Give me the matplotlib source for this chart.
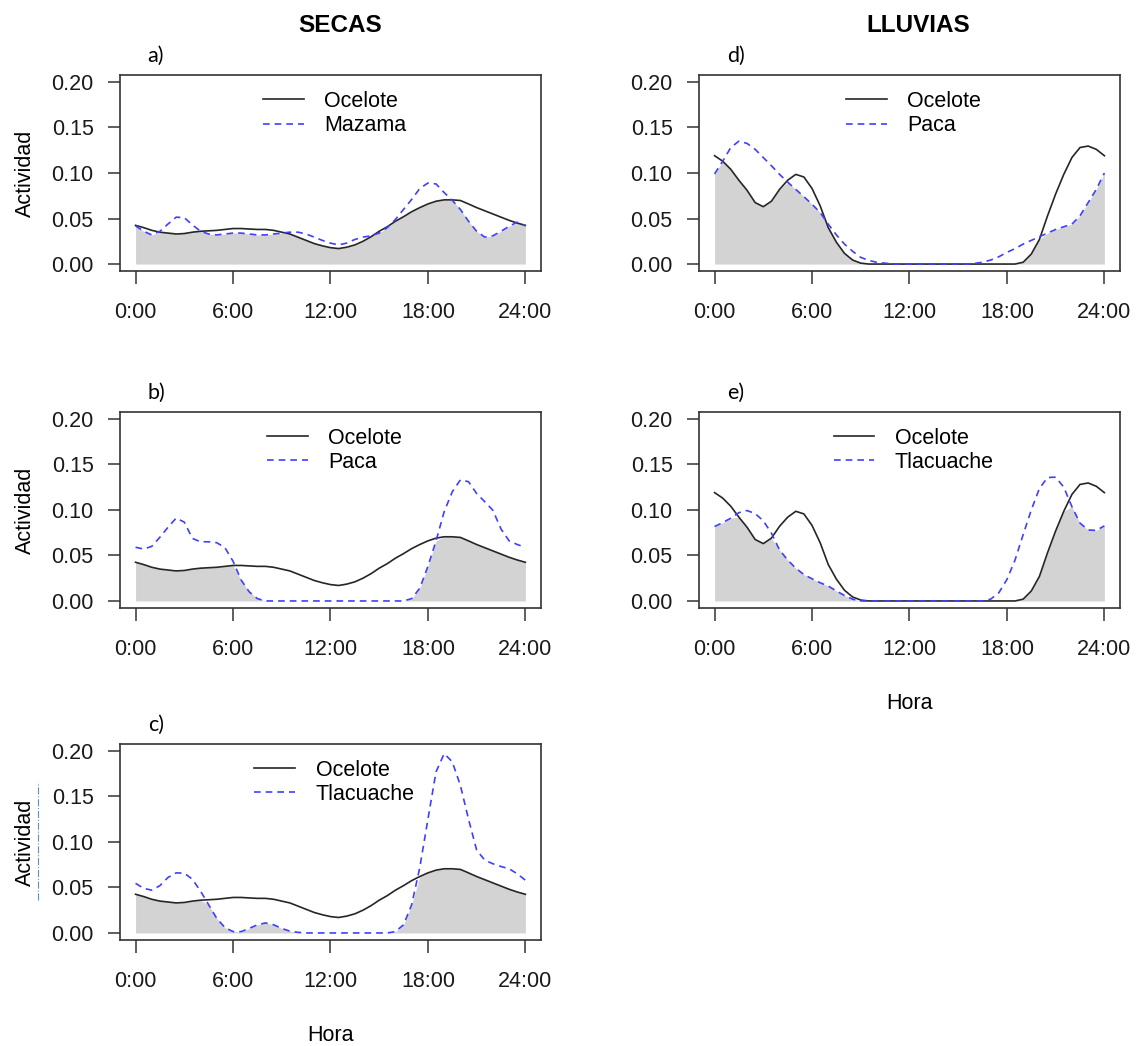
import matplotlib
matplotlib.use("Agg")
import matplotlib.pyplot as plt
import numpy as np

hours = [0, 0.5, 1, 1.5, 2, 2.5, 3, 3.5, 4, 4.5, 5, 5.5, 6, 6.5, 7, 7.5, 8, 8.5,
         9, 9.5, 10, 10.5, 11, 11.5, 12, 12.5, 13, 13.5, 14, 14.5, 15, 15.5, 16,
         16.5, 17, 17.5, 18, 18.5, 19, 19.5, 20, 20.5, 21, 21.5, 22, 22.5, 23, 23.5, 24]
hour_ticks = [0, 6, 12, 18, 24]
hour_labels = ["0:00", "6:00", "12:00", "18:00", "24:00"]

ocelote_secas = [0.0425, 0.040, 0.037, 0.035, 0.034, 0.033, 0.0335, 0.035, 0.036, 0.0365,
                 0.037, 0.038, 0.039, 0.039, 0.0385, 0.038, 0.038, 0.037, 0.035, 0.033,
                 0.0295, 0.026, 0.0225, 0.020, 0.018, 0.017, 0.0185, 0.021, 0.025, 0.030,
                 0.036, 0.041, 0.047, 0.052, 0.0575, 0.062, 0.066, 0.069, 0.0705, 0.0705,
                 0.0698, 0.066, 0.062, 0.0585, 0.055, 0.0515, 0.048, 0.045, 0.0425]
mazama_secas = [0.042, 0.036, 0.032, 0.036, 0.044, 0.0515, 0.051, 0.043, 0.036, 0.033,
                0.032, 0.033, 0.034, 0.034, 0.033, 0.032, 0.032, 0.033, 0.034, 0.035,
                0.035, 0.033, 0.0296, 0.026, 0.023, 0.021, 0.023, 0.027, 0.0296, 0.031,
                0.034, 0.040, 0.049, 0.060, 0.071, 0.083, 0.089, 0.088, 0.0785, 0.070,
                0.060, 0.047, 0.036, 0.0296, 0.031, 0.036, 0.0415, 0.046, 0.042]
paca_secas = [0.059, 0.057, 0.060, 0.070, 0.081, 0.091, 0.0866, 0.0687, 0.065, 0.065,
              0.064, 0.0586, 0.0437, 0.023, 0.010, 0.0026, 0, 0, 0, 0,
              0, 0, 0, 0, 0, 0, 0, 0, 0, 0,
              0, 0, 0, 0, 0.0026, 0.014, 0.038, 0.066, 0.098, 0.120,
              0.133, 0.131, 0.118, 0.109, 0.0996, 0.079, 0.066, 0.062, 0.059]
tlacuache_secas = [0.0545, 0.049, 0.047, 0.052, 0.061, 0.066, 0.0657, 0.059, 0.046, 0.031,
                   0.016, 0.006, 0.0015, 0.0015, 0.005, 0.009, 0.011, 0.009, 0.005, 0.002,
                   0.0007, 0, 0, 0, 0, 0, 0, 0, 0, 0,
                   0, 0, 0.0015, 0.009, 0.031, 0.072, 0.125, 0.177, 0.197, 0.188,
                   0.162, 0.125, 0.091, 0.080, 0.076, 0.073, 0.0705, 0.065, 0.058]
ocelote_lluvias = [0.119, 0.113, 0.104, 0.092, 0.081, 0.0675, 0.063, 0.069, 0.082, 0.092,
                   0.0985, 0.0956, 0.083, 0.064, 0.040, 0.024, 0.0117, 0.0044, 0.001, 0,
                   0, 0, 0, 0, 0, 0, 0, 0, 0, 0,
                   0, 0, 0, 0, 0, 0, 0, 0, 0.002, 0.011,
                   0.027, 0.053, 0.077, 0.0985, 0.117, 0.128, 0.1296, 0.126, 0.119]
paca_lluvias = [0.099, 0.113, 0.128, 0.135, 0.1325, 0.126, 0.117, 0.108, 0.0985, 0.090,
                0.082, 0.074, 0.0657, 0.0566, 0.0438, 0.032, 0.0219, 0.014, 0.0073, 0.004,
                0.0018, 0.001, 0, 0, 0, 0, 0, 0, 0, 0,
                0, 0, 0.0007, 0.002, 0.0044, 0.008, 0.0128, 0.017, 0.0219, 0.026,
                0.030, 0.034, 0.038, 0.041, 0.0438, 0.053, 0.0675, 0.082, 0.100]
tlacuache_lluvias = [0.0818, 0.086, 0.091, 0.097, 0.0993, 0.096, 0.088, 0.0745, 0.056, 0.045,
                     0.036, 0.029, 0.0244, 0.020, 0.0164, 0.011, 0.006, 0.002, 0, 0,
                     0, 0, 0, 0, 0, 0, 0, 0, 0, 0,
                     0, 0, 0, 0, 0.002, 0.009, 0.0236, 0.045, 0.073, 0.100,
                     0.1236, 0.1356, 0.136, 0.125, 0.1036, 0.0855, 0.078, 0.0775, 0.0825]

plt.rcParams["font.family"] = ["Liberation Sans", "DejaVu Sans"]

AX_W = 0.3706
AX_H = 0.188
LEFT_COL = 0.1056
RIGHT_COL = 0.6153
ROWS = [0.7406, 0.4185, 0.1011]
FS = 15.5


def overlap_panel(fig, rect, ocelote, other, other_name, letter, ylabel=True, xlabel=False):
    ax = fig.add_axes(rect)
    ax.fill_between(hours, 0, np.minimum(ocelote, other), color="#d3d3d3", lw=0)
    ax.plot(hours, ocelote, color="#262626", lw=1.2, label="Ocelote")
    ax.plot(hours, other, color="#3f3fff", lw=1.2, ls=(0, (4, 3)), label=other_name)
    ax.set_xlim(-0.96, 24.96)
    ax.set_ylim(-0.008, 0.208)
    ax.set_xticks(hour_ticks)
    ax.set_xticklabels(hour_labels)
    ax.set_yticks([0, 0.05, 0.10, 0.15, 0.20])
    ax.set_yticklabels(["0.00", "0.05", "0.10", "0.15", "0.20"])
    ax.tick_params(direction="out", length=9, width=1.1, labelsize=FS, pad=10,
                   color="#333333", labelcolor="#1a1a1a")
    ax.tick_params(axis="x", pad=13)
    for s in ax.spines.values():
        s.set_color("#333333")
        s.set_linewidth(1.2)
    ax.legend(loc="upper center", frameon=False, fontsize=FS, handlelength=1.9,
              handletextpad=0.95, labelspacing=0.15, borderaxespad=0.35,
              bbox_to_anchor=(0.51, 1.0))
    if ylabel:
        ax.set_ylabel("Actividad", fontsize=FS, labelpad=11)
    if xlabel:
        ax.set_xlabel("Hora", fontsize=FS, labelpad=24)
    ax.text(0.066, 1.097, letter, transform=ax.transAxes, fontsize=15.5,
            family=["Lato", "DejaVu Sans"], va="center", ha="left")
    return ax


fig = plt.figure(figsize=(11.36, 10.46), dpi=100)

overlap_panel(fig, [LEFT_COL, ROWS[0], AX_W, AX_H], ocelote_secas, mazama_secas, "Mazama", "a)")
overlap_panel(fig, [LEFT_COL, ROWS[1], AX_W, AX_H], ocelote_secas, paca_secas, "Paca", "b)")
overlap_panel(fig, [LEFT_COL, ROWS[2], AX_W, AX_H], ocelote_secas, tlacuache_secas, "Tlacuache", "c)",
              xlabel=True)
overlap_panel(fig, [RIGHT_COL, ROWS[0], AX_W, AX_H], ocelote_lluvias, paca_lluvias, "Paca", "d)",
              ylabel=False)
overlap_panel(fig, [RIGHT_COL, ROWS[1], AX_W, AX_H], ocelote_lluvias, tlacuache_lluvias, "Tlacuache", "e)",
              ylabel=False, xlabel=True)

fig.text(340 / 1136, 1 - 25 / 1046, "SECAS", fontsize=17.5, fontweight="bold", ha="center", va="center")
fig.text(918 / 1136, 1 - 25 / 1046, "LLUVIAS", fontsize=17.5, fontweight="bold", ha="center", va="center")

# stray dash-dot mark next to the c) axis label
fig.add_artist(plt.Line2D([38 / 1136, 38 / 1136], [1 - 900 / 1046, 1 - 782 / 1046],
                          color="#5b8fc9", lw=0.8, ls="-."))

fig.savefig("out.png", dpi=100)
